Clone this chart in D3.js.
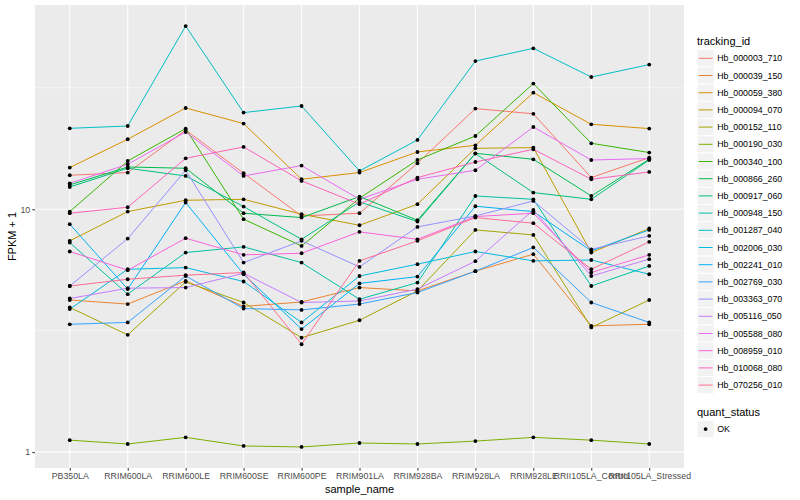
<!DOCTYPE html>
<html>
<head>
<meta charset="utf-8">
<script src="https://cdn.jsdelivr.net/npm/d3@7"></script>
<style>
  body { margin: 0; background: #fff; }
  svg { font-family: "Liberation Sans", Arial, sans-serif; }
</style>
</head>
<body>
<div id="chart"></div>
<script>
// sample names (x axis)
var samples = ["PB350LA", "RRIM600LA", "RRIM600LE", "RRIM600SE", "RRIM600PE", "RRIM901LA",
  "RRIM928BA", "RRIM928LA", "RRIM928LE", "RRII105LA_Control", "RRII105LA_Stressed"];

var trackingIds = ["Hb_000003_710", "Hb_000039_150", "Hb_000059_380", "Hb_000094_070", "Hb_000152_110",
  "Hb_000190_030", "Hb_000340_100", "Hb_000866_260", "Hb_000917_060", "Hb_000948_150",
  "Hb_001287_040", "Hb_002006_030", "Hb_002241_010", "Hb_002769_030", "Hb_003363_070",
  "Hb_005116_050", "Hb_005588_080", "Hb_008959_010", "Hb_010068_080", "Hb_070256_010"];

// FPKM + 1, one value per sample
var hb_000003_710 = [13.80, 14.16, 21.20, 14.07, 9.38, 9.63, 15.46, 25.97, 24.72, 13.50, 16.32];
var hb_000039_150 = [4.23, 4.07, 5.07, 3.98, 4.15, 4.76, 4.61, 5.56, 6.53, 3.31, 3.36];
var hb_000059_380 = [14.85, 19.42, 26.12, 22.53, 13.29, 14.16, 17.21, 18.34, 30.21, 22.38, 21.48];
var hb_000094_070 = [7.41, 9.78, 10.89, 10.99, 9.54, 8.59, 10.49, 17.82, 17.94, 6.63, 8.33];
var hb_000152_110 = [3.94, 3.04, 5.02, 4.13, 2.96, 3.49, 4.61, 8.22, 7.84, 3.26, 4.23];
var hb_000190_030 = [1.12, 1.08, 1.15, 1.06, 1.05, 1.09, 1.08, 1.11, 1.15, 1.12, 1.08];
var hb_000340_100 = [9.78, 15.80, 21.48, 9.10, 7.06, 11.10, 15.95, 20.03, 32.91, 18.69, 17.12];
var hb_000866_260 = [12.59, 14.93, 14.75, 9.63, 9.24, 11.28, 9.01, 17.00, 16.06, 11.34, 16.06];
var hb_000917_060 = [12.35, 14.75, 13.71, 10.26, 7.52, 10.72, 8.90, 16.95, 11.71, 10.99, 15.95];
var hb_000948_150 = [7.29, 4.47, 6.63, 7.00, 6.03, 4.26, 4.99, 11.34, 10.99, 4.83, 5.84];
var hb_001287_040 = [21.54, 22.02, 56.80, 25.00, 26.62, 14.38, 19.29, 40.76, 45.98, 35.03, 39.40];
var hb_002006_030 = [3.88, 5.66, 5.75, 5.04, 3.42, 5.31, 5.94, 6.70, 6.13, 6.18, 5.40];
var hb_002241_010 = [8.68, 4.69, 10.66, 5.40, 3.21, 4.95, 5.28, 10.29, 9.78, 6.74, 8.22];
var hb_002769_030 = [3.36, 3.42, 5.31, 3.90, 3.85, 4.07, 4.54, 5.56, 6.96, 4.13, 3.42];
var hb_003363_070 = [4.83, 7.57, 14.47, 6.03, 7.41, 5.79, 8.46, 9.38, 10.82, 6.84, 7.77];
var hb_005116_050 = [4.29, 4.73, 4.76, 5.45, 4.13, 4.19, 4.69, 6.11, 9.93, 5.31, 6.23];
var hb_005588_080 = [12.79, 15.32, 20.80, 13.71, 15.13, 10.99, 13.29, 14.47, 21.81, 15.95, 16.17];
var hb_008959_010 = [6.70, 5.61, 7.60, 6.49, 6.59, 8.07, 7.52, 9.33, 9.63, 5.49, 6.49];
var hb_010068_080 = [9.63, 10.19, 16.21, 18.05, 13.08, 10.49, 13.50, 15.65, 17.66, 13.29, 14.24];
var hb_070256_010 = [4.83, 5.15, 5.35, 5.49, 2.78, 6.13, 7.41, 9.24, 8.76, 5.66, 7.34];

var seriesValues = [hb_000003_710, hb_000039_150, hb_000059_380, hb_000094_070, hb_000152_110,
  hb_000190_030, hb_000340_100, hb_000866_260, hb_000917_060, hb_000948_150,
  hb_001287_040, hb_002006_030, hb_002241_010, hb_002769_030, hb_003363_070,
  hb_005116_050, hb_005588_080, hb_008959_010, hb_010068_080, hb_070256_010];

var yTicks = [1, 10];
var yMinor = [Math.sqrt(10), Math.pow(10, 1.5)];
var quantStatus = ["OK"];

// ggplot hue palette, 20 levels
var palette = ["#F8766D", "#EA8331", "#D89000", "#C09B00", "#A3A500", "#7CAE00", "#39B600", "#00BB4E",
  "#00BF7D", "#00C1A3", "#00BFC4", "#00BAE0", "#00B0F6", "#35A2FF", "#9590FF", "#C77CFF",
  "#E76BF3", "#FA62DB", "#FF62BC", "#FF6C91"];

var width = 800, height = 500;
var panel = {left: 35, right: 684, top: 5, bottom: 468};

var series = trackingIds.map(function(id, i) {
	return {id: id, values: seriesValues[i].map(function(v, j) { return {sample: samples[j], v: v}; })};
});

var svg = d3.select("#chart").append("svg")
	.attr("width", width)
	.attr("height", height);

var x = d3.scalePoint()
	.domain(samples)
	.range([panel.left, panel.right])
	.padding(0.6);

// log scale with ggplot style 5% expansion
var all = d3.merge(seriesValues);
var lo = Math.log10(d3.min(all)), hi = Math.log10(d3.max(all));
var pad = (hi - lo) * 0.05;
var y = d3.scaleLog()
	.domain([Math.pow(10, lo - pad), Math.pow(10, hi + pad)])
	.range([panel.bottom, panel.top]);

var color = d3.scaleOrdinal().domain(trackingIds).range(palette);

// panel background
svg.append("rect")
	.attr("x", panel.left)
	.attr("y", panel.top)
	.attr("width", panel.right - panel.left)
	.attr("height", panel.bottom - panel.top)
	.attr("fill", "#EBEBEB");

// grid
svg.selectAll(".yminor")
	.data(yMinor)
	.enter().append("line")
	.attr("x1", panel.left).attr("x2", panel.right)
	.attr("y1", function(d) { return y(d); })
	.attr("y2", function(d) { return y(d); })
	.attr("stroke", "#fff")
	.attr("stroke-width", 0.55);
svg.selectAll(".ymajor")
	.data(yTicks)
	.enter().append("line")
	.attr("x1", panel.left).attr("x2", panel.right)
	.attr("y1", function(d) { return y(d); })
	.attr("y2", function(d) { return y(d); })
	.attr("stroke", "#fff")
	.attr("stroke-width", 1.1);
svg.selectAll(".xmajor")
	.data(samples)
	.enter().append("line")
	.attr("x1", function(d) { return x(d); })
	.attr("x2", function(d) { return x(d); })
	.attr("y1", panel.top).attr("y2", panel.bottom)
	.attr("stroke", "#fff")
	.attr("stroke-width", 1.1);

// lines
var line = d3.line()
	.x(function(d) { return x(d.sample); })
	.y(function(d) { return y(d.v); });

svg.selectAll(".line")
	.data(series)
	.enter().append("path")
	.attr("class", "line")
	.attr("d", function(d) { return line(d.values); })
	.attr("fill", "none")
	.attr("stroke", function(d) { return color(d.id); })
	.attr("stroke-width", 1);

// points
svg.selectAll(".pt")
	.data(d3.merge(series.map(function(s) { return s.values; })))
	.enter().append("circle")
	.attr("class", "pt")
	.attr("cx", function(d) { return x(d.sample); })
	.attr("cy", function(d) { return y(d.v); })
	.attr("r", 1.9)
	.attr("fill", "#000");

// axes
var yAxis = svg.append("g")
	.attr("transform", "translate(" + panel.left + ",0)")
	.call(d3.axisLeft(y).tickValues(yTicks).tickFormat(d3.format("d")).tickSize(2.75).tickPadding(2));
var xAxis = svg.append("g")
	.attr("transform", "translate(0," + panel.bottom + ")")
	.call(d3.axisBottom(x).tickSize(2.75).tickPadding(2));
[xAxis, yAxis].forEach(function(g) {
	g.select(".domain").remove();
	g.selectAll(".tick line").attr("stroke", "#333333").attr("stroke-width", 1);
	g.selectAll(".tick text").attr("fill", "#4D4D4D").style("font-size", "8.8px");
});

svg.append("text")
	.attr("x", (panel.left + panel.right) / 2)
	.attr("y", 493)
	.style("text-anchor", "middle")
	.style("font-size", "11px")
	.text("sample_name");
svg.append("text")
	.attr("transform", "translate(16," + ((panel.top + panel.bottom) / 2) + ") rotate(-90)")
	.style("text-anchor", "middle")
	.style("font-size", "11px")
	.text("FPKM + 1");

// legend: tracking_id
var lx = 697, keySize = 17.2, ly = 49.7;
svg.append("text")
	.attr("x", lx)
	.attr("y", 44.5)
	.style("font-size", "11px")
	.text("tracking_id");
var keys = svg.selectAll(".key")
	.data(trackingIds)
	.enter().append("g")
	.attr("class", "key")
	.attr("transform", function(d, i) { return "translate(" + lx + "," + (ly + i * keySize) + ")"; });
keys.append("rect")
	.attr("width", keySize)
	.attr("height", keySize)
	.attr("fill", "#F2F2F2")
	.attr("stroke", "#fff")
	.attr("stroke-width", 1);
keys.append("line")
	.attr("x1", 1.7).attr("x2", keySize - 1.7)
	.attr("y1", keySize / 2).attr("y2", keySize / 2)
	.attr("stroke", function(d) { return color(d); })
	.attr("stroke-width", 1);
keys.append("text")
	.attr("x", keySize + 3)
	.attr("y", keySize / 2)
	.attr("dy", "0.35em")
	.style("font-size", "8.8px")
	.text(function(d) { return d; });

// legend: quant_status
svg.append("text")
	.attr("x", lx)
	.attr("y", 416)
	.style("font-size", "11px")
	.text("quant_status");
var qkeys = svg.selectAll(".qkey")
	.data(quantStatus)
	.enter().append("g")
	.attr("class", "qkey")
	.attr("transform", function(d, i) { return "translate(" + lx + "," + (420.5 + i * keySize) + ")"; });
qkeys.append("rect")
	.attr("width", keySize)
	.attr("height", keySize)
	.attr("fill", "#F2F2F2")
	.attr("stroke", "#fff");
qkeys.append("circle")
	.attr("cx", keySize / 2)
	.attr("cy", keySize / 2)
	.attr("r", 1.9)
	.attr("fill", "#000");
qkeys.append("text")
	.attr("x", keySize + 3)
	.attr("y", keySize / 2)
	.attr("dy", "0.35em")
	.style("font-size", "8.8px")
	.text(function(d) { return d; });
</script>
</body>
</html>
